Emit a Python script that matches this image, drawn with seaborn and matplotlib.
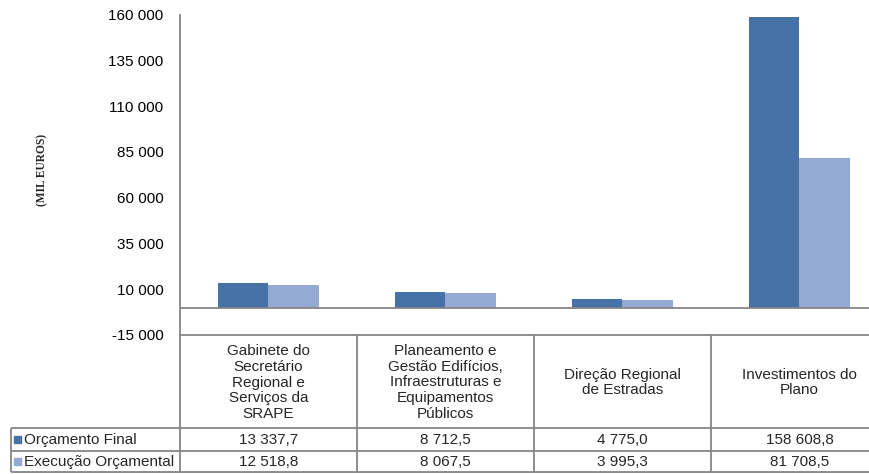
import matplotlib
matplotlib.use("Agg")
import matplotlib.pyplot as plt
import matplotlib.transforms as mtransforms
from matplotlib.ticker import FuncFormatter
import seaborn as sns
import pandas as pd

categories = [
    "Gabinete do\nSecretário\nRegional e\nServiços da\nSRAPE",
    "Planeamento e\nGestão Edifícios,\nInfraestruturas e\nEquipamentos\nPúblicos",
    "Direção Regional\nde Estradas",
    "Investimentos do\nPlano",
]
series_names = ["Orçamento Final", "Execução Orçamental"]
orcamento_final = [13337.7, 8712.5, 4775.0, 158608.8]
execucao_orcamental = [12518.8, 8067.5, 3995.3, 81708.5]
y_ticks = [-15000, 10000, 35000, 60000, 85000, 110000, 135000, 160000]
colors = ["#4672A8", "#94AAD2"]
grid_color = "#868686"

sns.set_theme(style="white")
plt.rcParams["font.family"] = ["Liberation Sans", "DejaVu Sans"]

rows = []
for c, a, b in zip(categories, orcamento_final, execucao_orcamental):
    rows.append({"Categoria": c, "Série": series_names[0], "Valor": a})
    rows.append({"Categoria": c, "Série": series_names[1], "Valor": b})
df = pd.DataFrame(rows)

W, H = 870, 474
fig = plt.figure(figsize=(W / 100, H / 100), dpi=100)

ax_t = fig.add_axes([0, 0, 1, 1], zorder=0)
ax_t.set_xlim(0, W)
ax_t.set_ylim(H, 0)
ax_t.axis("off")

left_px, right_px, top_px, bot_px = 180, 870, 14.5, 335
ax = fig.add_axes([left_px / W, (H - bot_px) / H, (right_px - left_px) / W, (bot_px - top_px) / H], zorder=1)
ax.patch.set_alpha(0)

sns.barplot(data=df, x="Categoria", y="Valor", hue="Série", palette=colors,
            width=0.565, gap=0, saturation=1, legend=False, ax=ax, zorder=2,
            linewidth=0, edgecolor="none")

cat_w = 177.0
ax.set_xlim(-0.5, -0.5 + (right_px - left_px) / cat_w)
ax.set_ylim(-15000, 160000)
ax.set_yticks(y_ticks)
ax.yaxis.set_major_formatter(FuncFormatter(lambda v, p: f"{int(v):,}".replace(",", " ")))
ax.tick_params(axis="y", length=0, pad=12, labelsize=11, labelcolor="black")
ax.set_xticks([])
ax.set_xlabel("")
ax.set_ylabel("")
for s in ["top", "right"]:
    ax.spines[s].set_visible(False)
for s in ["left", "bottom"]:
    ax.spines[s].set_color(grid_color)
    ax.spines[s].set_linewidth(1.3)
ax.axhline(0, color=grid_color, lw=1.3, zorder=3)

fig.text(42 / W, 1 - 170 / H, "(MIL EUROS)", rotation=90, ha="center", va="center",
         fontsize=8.3, fontweight="bold", family=["Liberation Serif", "DejaVu Serif"])

blend = mtransforms.blended_transform_factory(ax.transData, ax_t.transData)
y_head_bot, y_r1_bot, y_r2_bot = 428, 451, 472
lw = 1.3
for i in range(len(categories)):
    ax_t.plot([i - 0.5, i - 0.5], [bot_px, y_r2_bot], color=grid_color, lw=lw, transform=blend,
              solid_capstyle="butt")
for yy in [y_head_bot, y_r1_bot, y_r2_bot]:
    ax_t.plot([11, W], [yy, yy], color=grid_color, lw=lw, solid_capstyle="butt")
ax_t.plot([11, 11], [y_head_bot, y_r2_bot], color=grid_color, lw=lw, solid_capstyle="butt")


def fmt(v):
    s = f"{v:,.1f}"
    ip, dp = s.split(".")
    return ip.replace(",", " ") + "," + dp


fs = 11
for i, c in enumerate(categories):
    ax_t.text(i, (bot_px + y_head_bot) / 2 + 1, c, transform=blend, ha="center", va="center",
              fontsize=fs, linespacing=1.17)
    ax_t.text(i, (y_head_bot + y_r1_bot) / 2 + 0.5, fmt(orcamento_final[i]), transform=blend,
              ha="center", va="center", fontsize=fs)
    ax_t.text(i, (y_r1_bot + y_r2_bot) / 2 + 0.5, fmt(execucao_orcamental[i]), transform=blend,
              ha="center", va="center", fontsize=fs)

for name, col, (y0, y1) in zip(series_names, colors,
                               [(y_head_bot, y_r1_bot), (y_r1_bot, y_r2_bot)]):
    yc = (y0 + y1) / 2
    ax_t.add_patch(plt.Rectangle((14, yc - 4), 7, 7, color=col))
    ax_t.text(24, yc + 0.5, name, ha="left", va="center", fontsize=fs)

fig.savefig("out.png", dpi=100)
